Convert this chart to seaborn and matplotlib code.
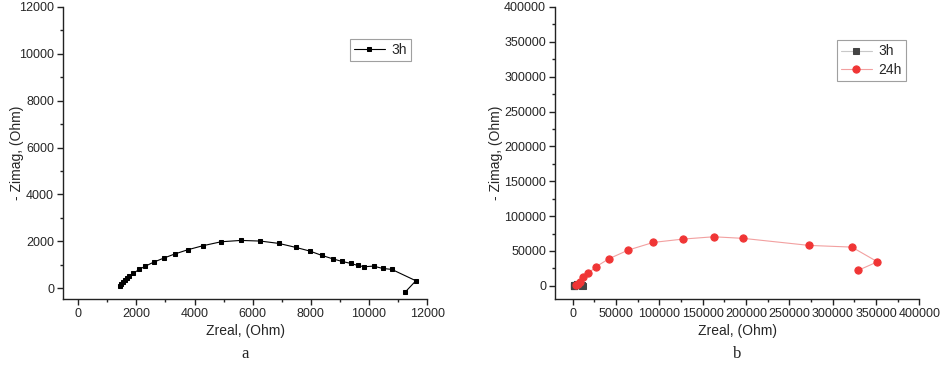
import numpy as np
import pandas as pd
import matplotlib
matplotlib.use('Agg')
import matplotlib.pyplot as plt
from matplotlib.ticker import MultipleLocator
import seaborn as sns

# 3h impedance data (Ohm)
zreal_3h = [1421, 1478, 1536, 1593, 1662, 1753, 1891, 2097, 2292, 2601, 2945, 3312,
            3770, 4286, 4916, 5592, 6268, 6899, 7484, 7965, 8378, 8744, 9066, 9376,
            9604, 9833, 10154, 10463, 10784, 11610, 11253]
zimag_3h = [85, 157, 242, 327, 412, 498, 626, 797, 925, 1110, 1281, 1452,
            1637, 1808, 1978, 2035, 2007, 1907, 1737, 1580, 1395, 1253, 1139, 1053,
            968, 911, 939, 840, 797, 313, -157]

# 24h impedance data (Ohm)
zreal_24h = [4000, 6000, 8400, 12250, 18000, 26900, 41900, 64200, 93100, 127400,
             162800, 197000, 272900, 322100, 351700, 329100]
zimag_24h = [800, 3000, 5750, 12000, 17800, 27300, 38800, 51300, 62300, 67100,
             70400, 68100, 58000, 55600, 34500, 22100]

df3 = pd.DataFrame({'Zreal': zreal_3h, 'Zimag': zimag_3h})
df24 = pd.DataFrame({'Zreal': zreal_24h, 'Zimag': zimag_24h})

sns.set_style('white')
plt.rcParams['font.family'] = ['Liberation Sans', 'DejaVu Sans']

fig = plt.figure(figsize=(9.41, 3.67), dpi=100)
ax1 = fig.add_axes([0.067, 0.185, 0.387, 0.796])
ax2 = fig.add_axes([0.590, 0.185, 0.387, 0.796])

tick_fs = 9
label_fs = 10

# panel a
sns.lineplot(data=df3, x='Zreal', y='Zimag', sort=False, estimator=None,
             color='black', linewidth=0.8, marker='s', markersize=3.4,
             markeredgecolor='black', label='3h', ax=ax1)
ax1.set_xlim(-520, 12000)
ax1.set_ylim(-470, 12000)
ax1.xaxis.set_major_locator(MultipleLocator(2000))
ax1.xaxis.set_minor_locator(MultipleLocator(1000))
ax1.yaxis.set_major_locator(MultipleLocator(2000))
ax1.yaxis.set_minor_locator(MultipleLocator(1000))

# panel b
sns.lineplot(data=df3, x='Zreal', y='Zimag', sort=False, estimator=None,
             color='#c8c8c8', linewidth=0.8, marker='s', markersize=5,
             markerfacecolor='#444444', markeredgecolor='#444444', label='3h', ax=ax2)
sns.lineplot(data=df24, x='Zreal', y='Zimag', sort=False, estimator=None,
             color='#f2a0a0', linewidth=0.8, marker='o', markersize=5.2,
             markerfacecolor='#f03535', markeredgecolor='#f03535', label='24h', ax=ax2)
ax2.set_xlim(-20000, 400000)
ax2.set_ylim(-19000, 400000)
ax2.xaxis.set_major_locator(MultipleLocator(50000))
ax2.xaxis.set_minor_locator(MultipleLocator(25000))
ax2.yaxis.set_major_locator(MultipleLocator(50000))
ax2.yaxis.set_minor_locator(MultipleLocator(25000))

for ax, ylab_x in [(ax1, -0.107), (ax2, -0.143)]:
    for s in ['top', 'right']:
        ax.spines[s].set_visible(False)
    for s in ['left', 'bottom']:
        ax.spines[s].set_linewidth(1.0)
        ax.spines[s].set_color('#222222')
    ax.tick_params(which='major', direction='out', length=4, width=1, pad=2.5,
                   labelsize=tick_fs, left=True, bottom=True, color='#222222')
    ax.tick_params(which='minor', direction='out', length=2.5, width=1,
                   left=True, bottom=True, color='#222222')
    ax.set_xlabel('Zreal, (Ohm)', fontsize=label_fs, labelpad=3)
    ax.set_ylabel('- Zimag, (Ohm)', fontsize=label_fs)
    ax.yaxis.set_label_coords(ylab_x, 0.5)

fig.text(0.260, 0.035, 'a', ha='center', va='center', fontsize=12,
         family='Liberation Serif')
fig.text(0.783, 0.035, 'b', ha='center', va='center', fontsize=12,
         family='Liberation Serif')

leg1 = ax1.legend(loc='upper right', bbox_to_anchor=(0.975, 0.915), fontsize=10,
                  fancybox=False, edgecolor='#888888', handlelength=2.2,
                  borderpad=0.3, handletextpad=0.5)
leg1.get_frame().set_linewidth(0.8)
leg2 = ax2.legend(loc='upper right', bbox_to_anchor=(0.983, 0.91), fontsize=10,
                  fancybox=False, edgecolor='#888888', handlelength=2.2,
                  borderpad=0.3, handletextpad=0.5, labelspacing=0.3)
leg2.get_frame().set_linewidth(0.8)

fig.savefig('out.png', dpi=100)
